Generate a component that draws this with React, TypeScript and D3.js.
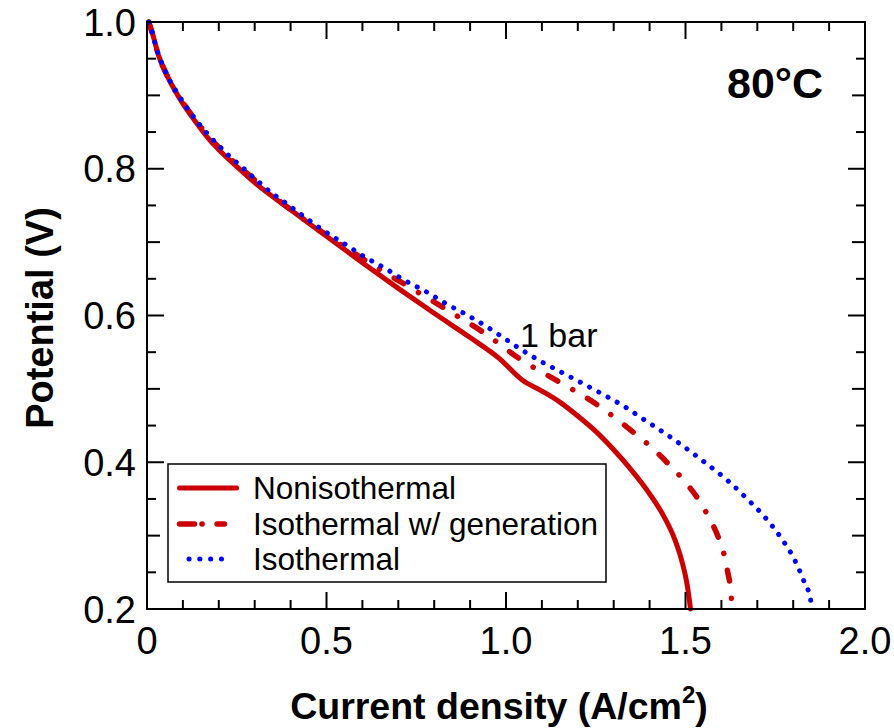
import React from "react";
import * as d3 from "d3";

// Series data: current density (A/cm2) and potential (V)
const isoCurrent = [0.005, 0.015, 0.023, 0.031, 0.042, 0.055, 0.069, 0.087, 0.107, 0.128, 0.15, 0.175, 0.203, 0.232, 0.261, 0.29, 0.318, 0.347, 0.376, 0.434, 0.491, 0.549, 0.606, 0.664, 0.721, 0.779, 0.837, 0.894, 0.952, 0.98, 1.038, 1.095, 1.153, 1.211, 1.268, 1.326, 1.382, 1.441, 1.499, 1.556, 1.613, 1.67, 1.725, 1.769, 1.804, 1.829, 1.849, 1.852];
const isoPotential = [1.0, 0.985, 0.97, 0.957, 0.943, 0.929, 0.915, 0.901, 0.886, 0.872, 0.858, 0.844, 0.83, 0.816, 0.804, 0.791, 0.779, 0.767, 0.757, 0.736, 0.716, 0.698, 0.68, 0.664, 0.647, 0.632, 0.615, 0.6, 0.583, 0.574, 0.555, 0.538, 0.523, 0.508, 0.493, 0.477, 0.459, 0.44, 0.42, 0.399, 0.377, 0.351, 0.323, 0.295, 0.267, 0.239, 0.211, 0.2];

const genCurrent = [0.005, 0.015, 0.031, 0.055, 0.087, 0.128, 0.175, 0.232, 0.29, 0.347, 0.434, 0.53, 0.633, 0.735, 0.838, 0.94, 1.041, 1.143, 1.246, 1.348, 1.399, 1.45, 1.496, 1.535, 1.565, 1.59, 1.607, 1.618, 1.626, 1.63];
const genPotential = [1.0, 0.984, 0.956, 0.928, 0.9, 0.871, 0.842, 0.814, 0.789, 0.765, 0.732, 0.7, 0.6675, 0.6375, 0.607, 0.576, 0.54, 0.511, 0.481, 0.4435, 0.423, 0.399, 0.375, 0.35, 0.325, 0.2995, 0.275, 0.2495, 0.225, 0.2];

const nonCurrent = [0.005, 0.015, 0.031, 0.055, 0.087, 0.128, 0.175, 0.2, 0.25, 0.3, 0.4, 0.5, 0.6, 0.7, 0.8, 0.9, 0.98, 1.048, 1.1, 1.15, 1.2, 1.25, 1.3, 1.35, 1.4, 1.44, 1.47, 1.49, 1.505, 1.514];
const nonPotential = [1.0, 0.985, 0.956, 0.928, 0.899, 0.869, 0.839, 0.826, 0.803, 0.781, 0.744, 0.708, 0.672, 0.637, 0.603, 0.57, 0.542, 0.511, 0.497, 0.482, 0.463, 0.442, 0.417, 0.389, 0.357, 0.326, 0.295, 0.265, 0.232, 0.2];

const xTickValues = [0, 0.5, 1.0, 1.5, 2.0];
const xTickLabels = ["0", "0.5", "1.0", "1.5", "2.0"];
const yTickValues = [0.2, 0.4, 0.6, 0.8, 1.0];
const yTickLabels = ["0.2", "0.4", "0.6", "0.8", "1.0"];
const legendLabels = ["Nonisothermal", "Isothermal w/ generation", "Isothermal"];

const RED = "#cc0000";
const BLUE = "#0000ff";
const FONT = "'Liberation Sans', Arial, Helvetica, sans-serif";

export default function App() {
  const W = 894, H = 728;
  const left = 147, right = 865, top = 22, bottom = 609;
  const x = d3.scaleLinear().domain([0, 2]).range([left, right]);
  const y = d3.scaleLinear().domain([0.2, 1.0]).range([bottom, top]);

  const line = d3
    .line<[number, number]>()
    .x((d) => x(d[0]))
    .y((d) => y(d[1]))
    .curve(d3.curveMonotoneX);

  const zip = (a: number[], b: number[]) => a.map((v, i) => [v, b[i]] as [number, number]);

  const xMinor = d3.range(0, 21).map((i) => i / 10);
  const yMinor = d3.range(0, 17).map((i) => 0.2 + i * 0.05);

  const tickEls: JSX.Element[] = [];
  xMinor.forEach((v, i) => {
    const major = i % 5 === 0;
    const len = major ? 17 : 9;
    const px = x(v);
    tickEls.push(<line key={"xb" + i} x1={px} x2={px} y1={bottom} y2={bottom - len} />);
    tickEls.push(<line key={"xt" + i} x1={px} x2={px} y1={top} y2={top + len} />);
  });
  yMinor.forEach((v, i) => {
    const len = i % 4 === 0 ? 17 : i % 2 === 0 ? 13 : 9;
    const py = y(v);
    tickEls.push(<line key={"yl" + i} x1={left} x2={left + len} y1={py} y2={py} />);
    tickEls.push(<line key={"yr" + i} x1={right} x2={right - len} y1={py} y2={py} />);
  });

  const legendY = [488, 524, 559];

  return (
    <svg
      width={W}
      height={H}
      viewBox={`0 0 ${W} ${H}`}
      style={{ position: "absolute", left: 0, top: 0, background: "#fff" }}
      fontFamily={FONT}
    >
      <rect x={0} y={0} width={W} height={H} fill="#fff" />
      {/* curves */}
      <g fill="none" strokeLinecap="round" strokeLinejoin="round">
        <path d={line(zip(nonCurrent, nonPotential)) || ""} stroke={RED} strokeWidth={5} />
        <path
          d={line(zip(genCurrent, genPotential)) || ""}
          stroke={RED}
          strokeWidth={5.5}
          strokeDasharray="11 17.25 0.1 17.25"
        />
        <path
          d={line(zip(isoCurrent, isoPotential)) || ""}
          stroke={BLUE}
          strokeWidth={5}
          strokeDasharray="0.1 10.4"
        />
      </g>
      {/* frame and ticks */}
      <g stroke="#000" strokeWidth={2} fill="none">
        {tickEls}
        <rect x={left} y={top} width={right - left} height={bottom - top} />
      </g>
      {/* tick labels */}
      <g fontSize={38} fill="#000">
        {xTickValues.map((v, i) => (
          <text key={"xl" + i} x={x(v)} y={654} textAnchor="middle">
            {xTickLabels[i]}
          </text>
        ))}
        {yTickValues.map((v, i) => (
          <text key={"yl" + i} x={136} y={y(v) + 13.5} textAnchor="end">
            {yTickLabels[i]}
          </text>
        ))}
      </g>
      {/* axis titles */}
      <text x={499} y={719} textAnchor="middle" fontSize={37.5} fontWeight="bold">
        Current density (A/cm
        <tspan fontSize={24} dy={-16}>2</tspan>
        <tspan dy={16}>)</tspan>
      </text>
      <text
        transform={`translate(53,318) rotate(-90)`}
        textAnchor="middle"
        fontSize={38}
        fontWeight="bold"
      >
        Potential (V)
      </text>
      <text x={727} y={98} fontSize={43} fontWeight="bold">
        80°C
      </text>
      <text x={520} y={347} fontSize={34}>
        1 bar
      </text>
      {/* legend */}
      <g>
        <rect x={168} y={464} width={438} height={118} fill="#fff" stroke="#000" strokeWidth={1.5} />
        <line x1={179.5} x2={236.5} y1={legendY[0]} y2={legendY[0]} stroke={RED} strokeWidth={5} strokeLinecap="round" />
        <line
          x1={179.5}
          x2={224.5}
          y1={legendY[1]}
          y2={legendY[1]}
          stroke={RED}
          strokeWidth={5.5}
          strokeLinecap="round"
          strokeDasharray="15 7.5 0.1 15"
        />
        <line
          x1={189}
          x2={232}
          y1={legendY[2]}
          y2={legendY[2]}
          stroke={BLUE}
          strokeWidth={5}
          strokeLinecap="round"
          strokeDasharray="0.1 10.7"
        />
        {legendLabels.map((t, i) => (
          <text key={t} x={253} y={legendY[i] + 10.5} fontSize={31.5}>
            {t}
          </text>
        ))}
      </g>
    </svg>
  );
}
